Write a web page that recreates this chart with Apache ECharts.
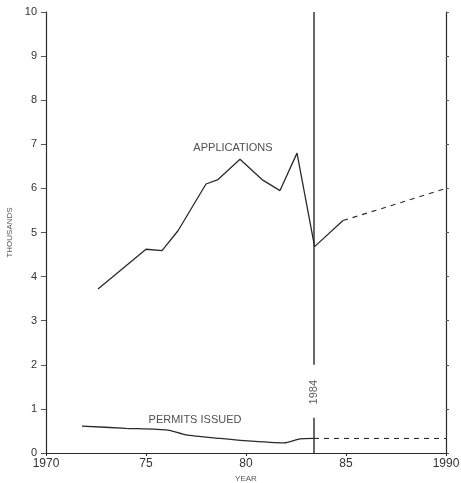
<!DOCTYPE html>
<html>
<head>
<meta charset="utf-8">
<script src="https://cdn.jsdelivr.net/npm/echarts@6/dist/echarts.min.js"></script>
<style>html,body{margin:0;padding:0;background:#fff;}#c{width:461px;height:483px;}</style>
</head>
<body>
<div id="c"></div>
<script>
// Applications (thousands), solid observed part
var appYears = [1972.6, 1975.0, 1975.8, 1976.6, 1978.0, 1978.6, 1979.7, 1980.8, 1981.7, 1982.55, 1983.43, 1984.85];
var appValues = [3.72, 4.62, 4.59, 5.04, 6.1, 6.2, 6.66, 6.2, 5.95, 6.8, 4.68, 5.27];
// Applications projected (dashed)
var appProjYears = [1984.85, 1990.0];
var appProjValues = [5.27, 6.0];
// Permits issued (thousands), solid observed part
var permYears = [1971.8, 1974.0, 1976.1, 1977.0, 1978.7, 1979.9, 1981.9, 1982.7, 1983.4];
var permValues = [0.61, 0.56, 0.52, 0.41, 0.33, 0.28, 0.23, 0.32, 0.33];
// Permits projected (dashed)
var permProjYears = [1983.4, 1990.0];
var permProjValues = [0.33, 0.33];
// 1984 reference line (with gap for its label)
var refYear = 1983.4;
var refSegments = [[10, 2.0], [0.8, 0]];
var refLabel = {text: '1984', value: 1.38};
// Text labels on the plot
var textLabels = [
  {text: 'APPLICATIONS', year: 1979.35, value: 6.92},
  {text: 'PERMITS ISSUED', year: 1977.45, value: 0.76}
];
// Tick labels
var xTickLabels = {1970: '1970', 1975: '75', 1980: '80', 1985: '85', 1990: '1990'};

function pairs(xs, ys) { return xs.map(function (x, i) { return [x, ys[i]]; }); }

var refData = [];
refSegments.forEach(function (s, i) {
  if (i > 0) refData.push([refYear, null]);
  refData.push([refYear, s[0]]);
  refData.push([refYear, s[1]]);
});

var font = '"Liberation Sans", Arial, sans-serif';
var ink = '#2a2a2a';

var chart = echarts.init(document.getElementById('c'), null, {renderer: 'canvas'});
chart.setOption({
  animation: false,
  backgroundColor: '#fff',
  grid: {left: 46, right: 15, top: 12, bottom: 30, containLabel: false, outerBoundsMode: 'none'},
  xAxis: {
    type: 'value', min: 1970, max: 1990, interval: 5,
    name: 'YEAR', nameLocation: 'middle', nameGap: 20,
    nameTextStyle: {fontSize: 8, color: '#555', fontFamily: font},
    axisLine: {show: true, lineStyle: {color: ink, width: 1.2}},
    axisTick: {show: true, length: 3, lineStyle: {color: ink}},
    axisLabel: {
      margin: 5, fontSize: 12, color: '#333', fontFamily: font,
      formatter: function (v) { return xTickLabels[v] || ''; }
    },
    splitLine: {show: false}
  },
  yAxis: [{
    type: 'value', min: 0, max: 10, interval: 1, position: 'left',
    name: 'THOUSANDS', nameLocation: 'middle', nameGap: 26, nameRotate: 90,
    nameTextStyle: {fontSize: 8, color: '#555', fontFamily: font},
    axisLine: {show: true, lineStyle: {color: ink, width: 1.2}},
    axisTick: {show: true, length: 5, lineStyle: {color: '#555'}},
    axisLabel: {margin: 9, fontSize: 11, color: '#333', fontFamily: font},
    splitLine: {show: false}
  }, {
    type: 'value', min: 0, max: 10, interval: 1, position: 'right',
    axisLine: {show: true, lineStyle: {color: ink, width: 1.2}},
    axisTick: {show: true, length: 3, lineStyle: {color: '#555'}},
    axisLabel: {show: false},
    splitLine: {show: false}
  }],
  series: [
    {type: 'line', data: pairs(appYears, appValues), symbol: 'none',
     lineStyle: {color: ink, width: 1.3}},
    {type: 'line', data: pairs(appProjYears, appProjValues), symbol: 'none',
     lineStyle: {color: ink, width: 1.1, type: [5, 5]}},
    {type: 'line', data: pairs(permYears, permValues), symbol: 'none', smooth: 0.2,
     lineStyle: {color: ink, width: 1.3}},
    {type: 'line', data: pairs(permProjYears, permProjValues), symbol: 'none',
     lineStyle: {color: ink, width: 1.1, type: [5, 5]}},
    {type: 'line', data: refData, symbol: 'none', connectNulls: false,
     lineStyle: {color: ink, width: 1.4}},
    {type: 'scatter', symbolSize: 0, silent: true,
     data: [{value: [refYear, refLabel.value], name: refLabel.text}],
     label: {show: true, position: 'inside', rotate: 90, formatter: '{b}',
             fontSize: 11, color: '#333', fontFamily: font}},
    {type: 'scatter', symbolSize: 0, silent: true,
     data: textLabels.map(function (t) { return {value: [t.year, t.value], name: t.text}; }),
     label: {show: true, position: 'inside', formatter: '{b}',
             fontSize: 11, color: '#222', fontFamily: font}}
  ]
});
</script>
</body>
</html>
